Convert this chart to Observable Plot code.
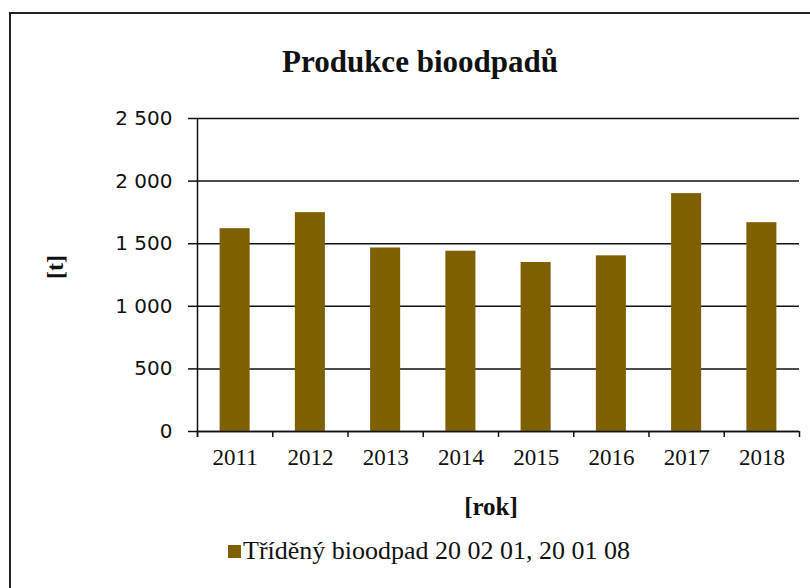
<!DOCTYPE html>
<html>
<head>
<meta charset="utf-8">
<script src="https://cdn.jsdelivr.net/npm/d3@7"></script>
<script src="https://cdn.jsdelivr.net/npm/@observablehq/plot@0.6"></script>
<style>
  html, body { margin: 0; padding: 0; background: #fff; }
  #wrap { position: relative; width: 810px; height: 588px; overflow: hidden; background: #fff; }
  #frame { position: absolute; left: 9px; top: 12px; width: 820px; height: 600px;
           border-left: 2px solid #222; border-top: 2px solid #222; }
  #title { position: absolute; left: 0; width: 840px; top: 44px; text-align: center;
           font-family: "Liberation Serif", serif; font-weight: bold; font-size: 31px; color: #111; }
  #ylab { position: absolute; left: 55px; top: 267px; transform: translate(-50%, -50%) rotate(-90deg);
          font-family: "Liberation Serif", serif; font-weight: bold; font-size: 24px; color: #111; }
  #xlab { position: absolute; left: 491px; top: 507px; transform: translate(-50%, -50%);
          font-family: "Liberation Serif", serif; font-weight: bold; font-size: 25px; color: #111; }
  #legend { position: absolute; left: 228px; top: 536px; display: flex; align-items: center; color: #111; }
  #legend span { font-family: "Liberation Serif", "Times New Roman", serif; font-size: 26px; }
  #legend .sw { width: 13px; height: 13px; margin-right: 2px; }
  #chart { position: absolute; left: 0; top: 0; }
  #chart svg [aria-label="y-axis tick label"] { font-family: "DejaVu Sans", sans-serif; font-size: 20px; }
  #chart svg [aria-label="x-axis tick label"] { font-family: "Liberation Serif", serif; font-size: 23px; }
</style>
</head>
<body>
<div id="wrap">
  <div id="frame"></div>
  <div id="title">Produkce bioodpadů</div>
  <div id="chart"></div>
  <div id="ylab">[t]</div>
  <div id="xlab">[rok]</div>
  <div id="legend"><div class="sw"></div><span></span></div>
</div>
<script>
const years = ["2011", "2012", "2013", "2014", "2015", "2016", "2017", "2018"];
const values = [1620, 1748, 1466, 1440, 1350, 1403, 1900, 1668];
const seriesName = "Tříděný bioodpad 20 02 01, 20 01 08";
const yTicks = [0, 500, 1000, 1500, 2000, 2500];
const barColor = "#7f6000";

const data = years.map((y, i) => ({year: y, value: values[i], i}));
const fmt = d => d3.format(",")(d).replace(/,/g, " ");

const chart = Plot.plot({
  width: 810,
  height: 500,
  marginTop: 118,
  marginBottom: 69,
  marginLeft: 197,
  marginRight: 11,
  style: {background: "transparent", color: "#111", overflow: "visible"},
  x: {domain: [0, years.length]},
  y: {domain: [0, 2500]},
  marks: [
    Plot.gridY(yTicks, {stroke: "#111", strokeOpacity: 1, strokeWidth: 1.5}),
    Plot.rectY(data, {x1: "i", x2: d => d.i + 1, y: "value", fill: barColor, insetLeft: 22.6, insetRight: 22.6}),
    Plot.ruleX([0], {stroke: "#111", strokeWidth: 1.5, insetBottom: -6}),
    Plot.ruleY([0], {stroke: "#111", strokeWidth: 1.5}),
    Plot.axisY({ticks: yTicks, tickFormat: fmt, tickSize: 9, tickPadding: 16, strokeWidth: 1.5, label: null, fill: "#111"}),
    Plot.axisX({ticks: d3.range(0, years.length + 1), tickSize: 6, strokeWidth: 1.5, tickFormat: () => "", label: null}),
    Plot.axisX({ticks: data.map(d => d.i + 0.5), tickSize: 0, tickPadding: 17, tickFormat: v => years[Math.floor(v)], label: null, fill: "#111"})
  ]
});
document.getElementById("chart").appendChild(chart);
document.querySelector("#legend .sw").style.background = barColor;
document.querySelector("#legend span").textContent = seriesName;
</script>
</body>
</html>
